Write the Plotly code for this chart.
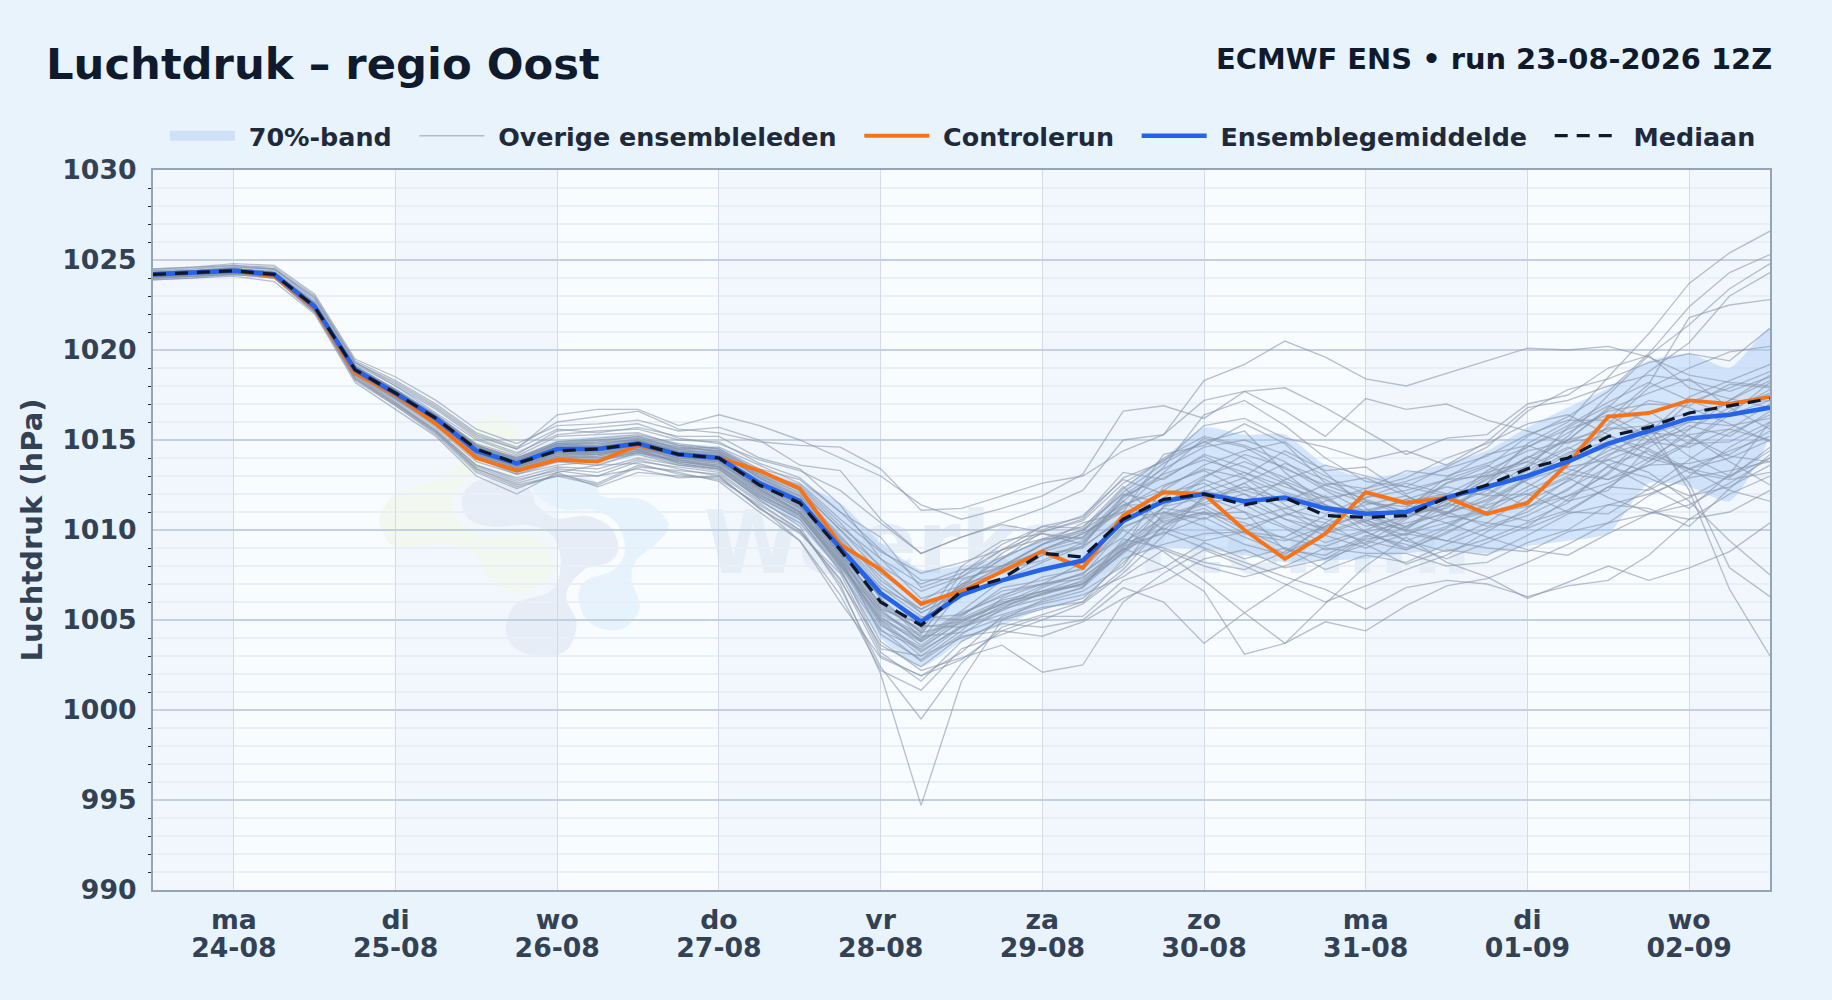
import pandas as pd
import plotly.graph_objects as go

TIMES = pd.date_range("2026-08-23 12:00", "2026-09-02 12:00", freq="6h")
DAYS = pd.date_range("2026-08-24", "2026-09-02", freq="D")
TICK_TEXT = ["ma<br>24-08", "di<br>25-08", "wo<br>26-08", "do<br>27-08", "vr<br>28-08",
             "za<br>29-08", "zo<br>30-08", "ma<br>31-08", "di<br>01-09", "wo<br>02-09"]
BASE_HPA = 1000  # all series below are hPa above this base

CONTROL = [24.2,24.3,24.4,24.1,22.3,18.7,17.5,15.9,14.0,13.3, 13.9,13.8,14.7,14.2,14.0,13.3,12.3,9.2,7.8,5.9,
           6.6,7.7,8.8,7.9,10.8,12.1,12.0,10.0,8.4,9.8, 12.1,11.5,11.8,10.9,11.5,13.7,16.3,16.5,17.2,17.0, 17.4]
MEAN = [24.2,24.3,24.4,24.2,22.4,18.9,17.6,16.2,14.4,13.7, 14.5,14.5,14.8,14.2,14.0,12.6,11.6,9.0,6.5,4.9,
        6.4,7.2,7.8,8.3,10.5,11.6,12.0,11.6,11.8,11.2, 10.9,11.0,11.8,12.4,13.0,13.8,14.8,15.5,16.2,16.4, 16.8]
MEDIAN = [24.2,24.3,24.4,24.2,22.4,18.9,17.6,16.2,14.5,13.7, 14.4,14.5,14.8,14.2,14.0,12.5,11.5,8.9,6.0,4.7,
          6.6,7.3,8.7,8.5,10.6,11.7,12.0,11.4,11.8,10.8, 10.7,10.8,11.8,12.5,13.4,14.0,15.2,15.7,16.5,16.9, 17.3]
BAND_UP = [24.5,24.6,24.7,24.5,22.7,19.2,17.9,16.5,14.8,14.1, 15.0,15.2,15.3,14.8,14.6,13.4,12.6,11.5,9.3,7.8,
           8.0,8.5,9.5,10.0,12.3,14.0,15.7,15.3,15.3,13.6, 12.9,13.2,13.7,14.4,15.7,16.8,17.9,19.4,19.8,19.0, 21.2]
BAND_LO = [24.0,24.1,24.2,24.0,22.1,18.6,17.2,15.8,14.0,13.2, 13.7,13.6,14.1,13.6,13.3,11.6,10.2,7.6,4.0,2.4,
           3.8,4.7,5.6,6.2,8.4,9.0,8.9,8.6,8.2,8.3, 8.4,8.7,8.9,8.7,9.1,9.4,9.8,12.6,12.4,11.6, 15.3]

MEMBERS = [
 [24.4,24.5,24.7,24.6,23.0,19.4,18.3,17.0,15.4,14.6, 16.0,16.3,16.6,15.6,15.4,14.9,14.7,14.6,13.4,11.1, 11.2,11.9,12.6,13.0,14.4,15.3,18.3,19.2,20.5,19.6, 18.4,18.0,18.7,19.4,20.1,20.0,20.2,19.6,18.6,18.2, 18.0],
 [24.3,24.4,24.6,24.5,22.9,19.3,18.1,16.8,15.2,14.5, 16.4,16.7,16.7,15.8,16.4,15.8,15.0,14.0,13.0,11.4, 10.6,11.2,11.9,13.1,16.6,16.9,16.2,17.7,17.9,16.8, 15.5,14.2,15.1,15.3,17.0,17.5,19.0,19.7,17.9,17.3, 16.8],
 [24.3,24.4,24.5,24.4,22.7,19.2,18.0,16.5,15.0,14.2, 15.5,15.7,15.9,15.1,14.8,13.9,13.3,12.2,10.4,8.7, 9.6,10.4,11.2,12.2,15.0,15.3,17.2,17.7,16.6,15.2, 17.3,16.7,17.0,16.1,15.5,14.8,15.9,17.9,19.0,19.9, 20.2],
 [24.2,24.3,24.5,24.3,22.5,19.0,17.8,16.3,14.7,14.0, 14.9,15.0,15.2,14.5,14.4,13.3,12.4,10.2,8.4,6.2, 6.9,8.4,9.9,10.5,12.6,13.9,14.9,15.5,13.2,11.4, 9.9,10.4,10.9,12.6,14.8,16.0,18.5,20.9,23.7,25.4, 26.6],
 [24.2,24.3,24.4,24.2,22.5,19.0,17.7,16.2,14.6,13.9, 14.7,14.9,15.0,14.3,14.2,13.1,12.0,9.6,7.4,5.4, 6.5,7.7,8.9,9.8,11.2,13.2,15.1,14.6,13.4,12.5, 11.7,11.0,12.6,13.5,15.2,16.3,17.7,19.8,22.4,24.3, 25.3],
 [24.3,24.3,24.5,24.3,22.6,19.1,17.8,16.4,14.8,14.1, 15.2,15.3,15.4,14.7,14.3,12.9,11.8,9.0,6.2,4.0, 5.5,7.2,8.2,9.1,10.6,12.2,13.6,14.4,14.9,13.2, 11.2,10.1,11.3,12.2,13.6,15.2,17.5,19.7,21.4,23.4, 24.8],
 [24.1,24.2,24.4,24.2,22.4,18.9,17.5,16.1,14.4,13.6, 14.3,14.4,14.9,14.4,14.1,12.3,11.0,8.2,5.0,3.3, 4.6,5.5,6.5,7.0,8.8,11.3,12.8,12.0,10.6,9.7, 9.0,9.8,10.4,11.0,13.0,15.0,16.8,18.8,20.4,23.0, 24.3],
 [24.2,24.3,24.4,24.3,22.5,18.9,17.6,16.1,14.3,13.5, 14.2,14.2,14.6,14.0,13.8,12.6,11.4,8.8,6.4,5.0, 7.0,8.4,9.5,10.2,12.0,11.5,12.4,13.2,12.1,11.4, 10.8,10.2,11.0,11.6,12.8,14.0,16.2,18.1,21.8,22.5, 22.8],
 [24.3,24.4,24.5,24.3,22.6,19.0,17.7,16.3,14.7,13.9, 14.8,14.6,14.9,14.5,14.6,13.6,12.6,10.6,8.8,7.6, 8.2,8.9,9.5,9.6,11.6,13.5,16.4,17.2,15.8,14.0, 12.7,12.4,13.5,14.6,16.6,17.8,18.4,19.3,19.8,19.4, 21.2],
 [24.1,24.2,24.3,24.1,22.2,18.6,17.2,15.7,13.8,13.1, 13.6,13.8,14.4,13.8,13.5,12.0,10.8,8.0,4.5,2.7, 4.2,5.6,6.2,6.8,8.8,10.6,11.2,10.0,9.0,8.4, 9.6,10.7,11.6,12.8,14.0,15.0,15.6,15.8,12.2,6.7, 3.0],
 [24.2,24.2,24.4,24.2,22.3,18.8,17.4,16.0,14.2,13.4, 14.0,14.2,14.6,14.1,13.9,12.2,11.1,8.4,5.6,3.8, 5.2,6.8,7.2,7.9,10.2,11.0,10.2,9.2,8.6,10.4, 11.8,12.6,12.0,13.1,14.6,15.6,16.4,15.2,12.6,7.9, 6.3],
 [24.0,24.1,24.2,24.0,22.2,18.5,17.0,15.5,13.5,12.7, 13.4,13.2,13.9,13.4,13.0,11.2,9.8,7.6,3.2,1.6, 3.8,5.0,5.6,6.2,8.2,10.2,11.8,12.6,11.0,9.9, 10.6,9.4,10.2,11.5,12.8,13.5,13.9,13.2,11.6,9.4, 7.5],
 [24.0,24.1,24.2,24.1,22.2,18.4,17.0,15.4,13.4,12.5, 13.0,12.5,13.5,13.3,13.1,11.5,10.0,7.0,2.0,-5.3, 1.6,5.0,6.1,6.8,9.5,9.0,8.2,7.8,8.8,10.2, 11.6,11.0,10.4,9.6,8.9,8.6,9.8,10.9,11.4,12.6, 14.0],
 [24.1,24.2,24.3,24.1,22.3,18.6,17.1,15.6,13.6,12.9, 13.5,13.4,14.0,13.6,13.4,11.7,10.2,6.8,2.4,-0.5, 2.6,4.6,5.3,6.0,8.4,9.2,9.8,9.9,9.6,10.8, 11.4,11.9,10.8,10.4,10.1,11.0,12.4,12.2,13.4,14.4, 15.2],
 [24.0,24.1,24.3,24.0,22.1,18.3,16.9,15.3,13.2,12.3, 13.1,12.6,13.6,13.2,12.7,11.0,9.4,6.4,2.2,1.1, 3.4,4.2,5.0,5.9,7.6,9.7,11.9,11.0,8.9,8.6, 9.7,9.2,8.4,9.3,10.2,11.7,13.2,15.4,15.2,13.8, 12.5],
 [24.1,24.1,24.3,24.1,22.2,18.5,17.1,15.5,13.6,12.8, 13.3,13.0,13.8,13.5,13.2,11.6,10.4,7.8,3.8,2.2, 2.9,3.6,2.1,2.5,6.0,7.6,8.9,8.0,7.0,6.0, 6.9,7.8,8.6,9.9,11.2,12.8,14.6,14.0,13.4,12.2, 11.6],
 [24.2,24.2,24.4,24.2,22.4,18.7,17.3,15.8,14.0,13.1, 13.8,13.6,14.3,13.9,13.5,11.9,10.7,8.3,4.8,3.0, 4.0,4.8,4.6,5.0,6.8,6.0,3.7,5.4,6.9,8.2, 9.5,9.8,9.4,9.0,8.8,9.9,10.4,10.9,11.8,13.0, 14.4],
 [24.1,24.2,24.4,24.2,22.3,18.8,17.5,15.9,14.1,13.3, 13.9,14.1,14.6,13.9,13.7,12.4,11.2,8.6,5.2,3.6, 5.1,6.1,6.6,6.9,9.0,8.0,6.6,3.1,3.7,4.9, 4.4,5.8,6.9,7.3,8.2,9.2,10.4,11.9,13.0,14.6, 15.8],
 [24.2,24.3,24.4,24.2,22.3,18.8,17.4,16.0,14.3,13.5, 14.1,14.3,14.5,13.7,13.4,11.8,10.6,7.9,3.4,3.0, 4.6,5.8,6.4,7.2,8.9,9.9,9.0,8.2,7.4,6.7, 5.6,6.8,7.2,7.0,6.3,6.9,7.2,8.6,10.6,12.0, 13.0],
 [24.2,24.3,24.4,24.2,22.4,18.9,17.5,16.1,14.4,13.6, 14.4,14.3,14.7,14.1,13.8,12.1,11.0,8.5,4.2,2.8, 4.4,6.2,7.0,7.5,10.0,8.8,7.2,5.4,3.7,5.9, 8.0,9.6,8.2,7.4,6.2,7.1,8.0,7.2,7.9,8.8, 10.4],
 [24.3,24.4,24.5,24.3,22.5,19.0,17.7,16.2,14.5,13.8, 14.6,14.6,15.0,14.4,14.3,13.1,12.2,10.0,7.6,6.0, 7.4,8.9,10.2,10.7,13.2,12.8,14.2,13.5,12.6,11.2, 10.4,9.4,8.8,9.5,10.4,11.1,12.4,13.8,15.6,16.8, 17.6],
 [24.2,24.3,24.4,24.2,22.4,18.9,17.6,16.1,14.4,13.7, 14.5,14.4,14.8,14.2,14.0,12.8,11.7,9.4,6.8,5.2, 5.0,6.0,6.4,7.0,9.0,12.4,13.4,12.9,11.4,10.0, 9.4,8.9,9.8,11.0,12.2,13.2,14.4,15.3,16.0,15.8, 16.2],
 [24.2,24.3,24.4,24.2,22.4,18.9,17.5,16.1,14.3,13.6, 14.2,14.4,14.6,14.2,13.9,12.5,11.3,8.6,5.4,4.2, 7.2,8.0,9.2,10.0,11.4,11.4,12.9,14.2,13.5,12.2, 11.0,11.7,12.4,11.9,12.0,13.0,14.2,14.9,14.6,15.6, 15.0],
 [24.3,24.3,24.5,24.3,22.5,19.0,17.6,16.2,14.6,13.8, 14.7,14.7,15.1,14.5,14.2,12.9,11.9,9.3,6.6,4.6, 4.9,5.9,6.6,7.4,8.9,10.8,11.5,12.6,13.7,12.8, 11.6,10.8,11.4,13.3,14.4,14.9,15.2,14.5,13.4,14.0, 15.0],
 [24.2,24.2,24.4,24.2,22.4,18.8,17.5,16.0,14.3,13.5, 14.3,14.2,14.5,14.0,13.8,12.4,11.3,8.9,5.8,4.4, 7.6,9.2,10.2,10.1,12.4,10.4,11.0,10.6,11.2,11.9, 10.4,9.7,10.9,12.6,14.1,13.4,12.8,13.6,14.8,16.4, 18.2],
 [24.3,24.4,24.5,24.3,22.6,19.1,17.8,16.4,14.7,14.0, 14.9,15.1,15.3,14.8,14.5,13.2,12.5,10.4,7.9,5.8, 6.8,8.0,8.8,9.4,11.4,12.2,11.4,10.2,10.8,11.6, 12.3,12.9,14.0,14.8,15.9,16.4,15.3,14.2,13.4,12.9, 14.6],
 [24.2,24.3,24.4,24.2,22.4,18.9,17.6,16.2,14.5,13.7, 14.5,14.6,14.9,14.3,14.1,12.7,11.5,8.7,5.9,4.7, 4.6,5.3,6.0,6.6,8.0,11.0,10.6,11.5,12.8,13.6, 13.0,12.4,11.9,11.2,12.4,13.7,15.8,17.2,16.8,15.9, 14.9],
 [24.1,24.2,24.4,24.2,22.3,18.8,17.4,15.9,14.1,13.4, 14.0,14.1,14.4,13.9,13.6,12.2,11.0,8.2,5.0,3.8, 5.3,6.4,7.0,7.3,9.2,10.1,9.4,9.9,10.9,10.4, 9.2,10.2,11.5,10.8,11.6,12.7,13.9,14.8,16.0,17.2, 18.6],
 [24.3,24.4,24.5,24.3,22.6,19.1,17.8,16.3,14.7,14.0, 14.8,14.9,15.2,14.7,14.5,13.4,12.8,11.0,8.9,7.2, 7.3,7.9,9.2,9.9,12.3,14.0,15.2,14.7,13.8,12.3, 11.5,11.3,12.6,13.2,13.8,15.0,16.7,17.6,18.4,16.8, 15.6],
 [24.2,24.3,24.4,24.2,22.4,18.9,17.6,16.2,14.4,13.7, 14.4,14.5,14.7,14.2,14.0,12.6,11.6,9.1,6.2,4.3, 6.8,8.7,10.0,10.8,12.8,12.0,12.6,11.4,10.2,9.3, 10.0,10.9,11.2,12.5,13.1,14.3,14.9,13.8,14.9,16.6, 17.8],
 [24.1,24.2,24.3,24.1,22.3,18.7,17.3,15.8,14.0,13.2, 13.9,13.9,14.2,13.6,13.3,11.8,10.6,7.7,4.4,3.4, 5.0,5.9,6.9,7.6,9.3,10.7,11.4,12.0,11.2,10.6, 9.9,8.9,9.9,10.9,11.3,11.9,13.1,15.0,17.1,17.9, 18.8],
 [24.3,24.3,24.5,24.3,22.5,19.0,17.7,16.3,14.6,13.9, 14.7,14.8,15.0,14.4,14.3,12.9,11.7,9.0,6.8,5.6, 6.7,7.6,8.6,9.1,11.8,13.1,13.9,13.2,12.4,11.7, 10.7,10.0,11.7,13.0,13.5,14.6,13.6,12.4,11.2,13.1, 16.0],
 [24.2,24.2,24.4,24.2,22.4,18.8,17.5,16.0,14.2,13.5, 14.1,14.2,14.5,14.0,13.7,12.3,11.2,8.4,5.3,4.1, 4.3,5.1,5.7,6.0,7.8,10.3,10.9,11.0,10.1,8.9, 9.3,10.6,11.9,12.3,11.3,12.2,14.1,15.7,14.1,13.0, 14.0],
 [24.2,24.3,24.4,24.2,22.4,18.9,17.6,16.1,14.4,13.6, 14.4,14.4,14.7,14.1,13.9,12.5,11.4,8.6,5.6,4.8, 8.0,9.4,9.8,9.5,11.6,10.0,11.7,12.4,11.7,10.9, 11.8,12.2,12.8,13.6,12.6,11.6,12.2,14.6,15.8,15.2, 16.6],
 [24.2,24.3,24.5,24.2,22.5,19.0,17.6,16.2,14.5,13.7, 14.6,14.6,14.9,14.3,14.1,12.7,11.6,8.9,6.3,5.1, 5.3,6.6,7.0,8.2,9.6,11.8,13.0,13.8,12.9,11.8, 10.5,11.2,12.9,14.2,14.7,13.9,14.6,15.9,16.5,17.0, 17.2],
 [24.1,24.2,24.4,24.1,22.3,18.7,17.3,15.9,14.1,13.3, 13.8,13.9,14.3,13.8,13.5,12.1,10.9,8.0,5.5,3.9, 5.4,6.3,7.4,7.8,10.1,11.2,10.9,10.4,9.5,9.1, 9.9,9.0,10.1,11.4,12.0,11.0,10.9,12.3,13.9,15.4, 16.4],
 [24.3,24.3,24.5,24.3,22.6,19.0,17.7,16.4,14.7,13.9, 14.8,14.8,15.0,14.6,14.4,13.0,12.1,9.7,7.2,5.6, 6.8,7.9,8.9,9.6,11.9,13.4,14.6,15.0,14.2,13.0, 12.0,11.4,10.9,11.7,12.9,14.2,15.5,16.6,15.2,14.1, 13.8],
 [24.2,24.3,24.4,24.2,22.3,18.8,17.4,16.0,14.2,13.4, 14.1,14.0,14.4,13.8,13.6,12.0,10.8,8.1,4.7,3.5, 4.9,5.9,6.6,7.1,9.1,9.8,10.7,9.6,8.7,9.8, 10.5,10.0,9.4,10.4,11.9,12.9,11.8,11.0,10.6,11.0, 12.2],
 [24.2,24.3,24.4,24.2,22.4,18.9,17.5,16.1,14.5,13.6, 14.3,14.5,14.8,14.2,13.9,12.4,11.5,8.8,5.7,4.5, 7.0,7.6,8.9,9.8,11.0,11.6,12.1,12.9,12.0,11.3, 11.1,11.6,12.0,12.0,13.4,15.7,16.9,16.0,14.8,14.9, 16.0],
 [24.3,24.4,24.5,24.3,22.5,19.0,17.7,16.3,14.6,13.9, 14.8,15.0,15.1,14.6,14.4,13.2,12.3,10.0,8.0,6.6, 7.4,8.5,9.4,10.0,12.1,13.7,14.9,14.0,12.7,11.8, 12.1,12.7,13.4,14.1,15.3,16.1,16.1,15.0,15.6,17.2, 18.3],
 [24.2,24.2,24.4,24.2,22.4,18.9,17.5,16.0,14.3,13.5, 14.2,14.3,14.6,14.1,13.8,12.3,11.0,8.3,5.1,3.9, 6.6,7.2,8.6,9.0,10.8,10.9,12.2,11.6,10.6,10.1, 10.9,11.7,11.0,10.2,11.0,12.3,13.5,12.9,11.9,12.4, 13.6],
 [24.2,24.3,24.4,24.2,22.4,18.9,17.6,16.2,14.4,13.6, 14.3,14.3,14.6,14.3,14.0,12.6,11.4,8.7,5.9,4.3, 4.8,5.6,6.8,7.6,9.2,11.3,11.8,12.2,12.6,11.4, 10.2,10.7,11.4,12.9,13.8,13.1,12.8,14.0,15.3,15.6, 17.0],
 [24.1,24.2,24.4,24.2,22.3,18.8,17.4,15.9,14.2,13.4, 14.0,14.0,14.3,13.7,13.4,11.9,10.9,8.1,4.9,3.2, 4.7,5.7,6.5,7.0,8.7,10.5,11.0,9.8,9.4,10.2, 10.9,9.9,10.7,11.0,10.5,11.5,13.6,14.4,13.2,12.8, 13.2],
 [24.3,24.4,24.5,24.3,22.5,19.0,17.7,16.2,14.5,13.8, 14.6,14.7,14.9,14.3,14.2,13.0,11.9,9.5,7.0,5.4, 6.6,7.8,8.3,9.3,11.3,12.5,13.3,12.2,11.6,12.5, 12.9,11.9,10.9,11.9,13.3,14.5,15.7,15.4,17.4,18.3, 19.2],
 [24.5,24.6,24.8,24.7,23.1,19.5,18.5,17.2,15.6,14.8, 15.8,15.9,16.1,15.5,15.7,15.0,13.6,13.3,10.6,8.7, 9.6,10.3,9.9,10.6,12.9,13.8,15.8,16.2,15.1,14.6, 13.9,14.4,13.6,14.9,16.8,17.2,18.0,18.6,18.3,17.7, 18.5],
 [23.9,24.0,24.1,23.8,22.0,18.2,16.7,15.2,13.0,12.0, 13.2,12.4,13.2,13.0,12.9,11.3,9.4,6.0,2.9,1.9, 2.8,4.4,4.1,4.9,6.2,7.1,8.4,8.9,7.9,8.4, 9.2,8.1,8.9,8.6,9.7,10.9,11.4,12.0,12.9,13.3, 13.8],
 [24.5,24.6,24.7,24.5,22.8,19.3,18.2,16.9,15.3,14.5, 15.6,15.4,15.7,15.2,15.2,14.0,13.4,11.4,8.4,7.0, 7.8,8.0,9.2,10.4,11.0,14.2,14.7,15.9,14.8,12.6, 12.3,13.3,13.0,13.7,14.6,15.8,17.1,18.2,17.2,16.4, 17.2],
 [24.0,24.1,24.2,24.0,22.1,18.4,17.0,15.5,13.4,12.6, 13.2,13.6,13.7,13.1,12.8,11.4,10.0,7.2,3.6,2.4, 4.1,4.4,5.2,5.2,7.2,7.9,9.3,8.4,9.0,7.8, 8.6,8.2,9.2,10.1,10.8,11.9,12.6,13.6,13.7,14.2, 15.5],
 [24.4,24.4,24.6,24.5,22.9,19.3,18.0,16.7,15.1,14.3, 15.3,15.5,15.6,15.0,14.9,13.7,12.9,11.0,9.6,6.8, 7.6,8.9,9.8,9.2,11.9,12.9,14.1,13.0,14.4,13.3, 13.5,12.0,12.8,13.0,14.0,15.4,16.6,17.0,16.9,18.1, 17.9],
 [23.9,24.0,24.2,24.0,22.1,18.4,16.9,15.4,13.3,12.4, 13.0,13.0,13.4,12.9,13.0,11.2,9.9,7.3,3.0,1.9, 3.2,5.2,5.9,6.4,7.4,8.9,8.0,7.4,8.0,9.0, 8.7,8.7,8.0,8.2,9.3,10.0,11.4,11.2,10.2,12.3, 14.2],
]

PAPER = "#e9f3fc"
PLOT_BG = "#f9fcff"
DAY_SHADE = "#f2f7fd"
L, R, T, B = 153, 1770, 170, 890  # plot area in page pixels
FONT = "DejaVu Sans"
NB = "\u00a0"


def hpa(values):
    return [BASE_HPA + v for v in values]


def blob(points_zoom, colour):
    """Closed smooth watermark blob; points are in page px relative to the logo origin."""
    pts = [((360 + x / 3 - L) / (R - L), (B - (390 + y / 3)) / (B - T)) for x, y in points_zoom]
    n = len(pts)
    d = f"M {pts[0][0]:.5f} {pts[0][1]:.5f}"
    for i in range(n):
        p0, p1, p2, p3 = pts[i - 1], pts[i], pts[(i + 1) % n], pts[(i + 2) % n]
        c1 = (p1[0] + (p2[0] - p0[0]) / 6, p1[1] + (p2[1] - p0[1]) / 6)
        c2 = (p2[0] - (p3[0] - p1[0]) / 6, p2[1] - (p3[1] - p1[1]) / 6)
        d += f" C {c1[0]:.5f} {c1[1]:.5f} {c2[0]:.5f} {c2[1]:.5f} {p2[0]:.5f} {p2[1]:.5f}"
    return dict(type="path", path=d + " Z", xref="paper", yref="paper", fillcolor=colour,
                line_width=0, layer="below")


LOGO_YELLOW = [(60,380),(110,310),(230,270),(300,215),(340,110),(400,72),(460,110),(470,165),(350,240),(280,320),
               (300,400),(380,440),(520,440),(580,520),(540,585),(460,610),(390,570),(340,490),(260,460),(110,470),(70,430)]
LOGO_DARK = [(305,330),(345,275),(430,268),(510,300),(530,345),(590,385),(680,378),(750,410),(775,470),(750,515),
             (680,535),(630,585),(620,630),(650,700),(620,780),(540,800),(460,770),(438,710),(470,640),(560,610),
             (595,570),(600,490),(570,430),(500,405),(400,410),(330,390)]
LOGO_LIGHT = [(515,290),(540,250),(600,250),(700,270),(730,320),(850,330),(925,400),(890,460),(830,510),(815,570),
              (840,650),(800,710),(740,720),(680,690),(655,620),(680,570),(760,540),(795,480),(770,400),(700,360),
              (620,360),(560,340)]

shapes = [blob(LOGO_YELLOW, "#f2f8ef"), blob(LOGO_LIGHT, "#e7f3fc"), blob(LOGO_DARK, "#e6edf6")]
shade_edges = [TIMES[0]] + list(DAYS) + [TIMES[-1]]
for k in range(0, len(shade_edges) - 1, 2):
    shapes.insert(0, dict(type="rect", xref="x", yref="paper", x0=shade_edges[k], x1=shade_edges[k + 1],
                          y0=0, y1=1, fillcolor=DAY_SHADE, line_width=0, layer="below"))
shapes.append(dict(type="rect", xref="paper", yref="paper", x0=(701 - L) / (R - L), x1=(1560 - L) / (R - L),
                   y0=(B - 574) / (B - T), y1=(B - 499) / (B - T), line_width=0, fillcolor="rgba(0,0,0,0)", layer="below",
                   label=dict(text="Weerkaarten.nl", textposition="middle left",
                              font=dict(family=FONT, size=88, weight=700, color="#e5eef7"), padding=0)))

fig = go.Figure()
fig.add_trace(go.Scatter(x=list(TIMES) + list(TIMES[::-1]), y=hpa(BAND_UP) + hpa(BAND_LO[::-1]),
                         mode="lines", fill="toself", fillcolor="rgba(160,198,245,0.42)",
                         line=dict(width=0, color="rgba(0,0,0,0)", shape="spline", smoothing=0.6),
                         showlegend=False, hoverinfo="skip"))
fig.add_trace(go.Scatter(x=[None], y=[None], mode="lines", name=NB + "70%-band" + NB * 2,
                         line=dict(color="#cfe0f7", width=17)))
for i, m in enumerate(MEMBERS):
    fig.add_trace(go.Scatter(x=TIMES, y=hpa(m), mode="lines", name=NB + "Overige ensembleleden" + NB * 2,
                             legendgroup="members", showlegend=i == 0,
                             line=dict(color="rgba(135,148,168,0.58)", width=1.35)))
fig.add_trace(go.Scatter(x=TIMES, y=hpa(CONTROL), mode="lines", name=NB + "Controlerun" + NB * 2,
                         line=dict(color="#f97316", width=3.9)))
fig.add_trace(go.Scatter(x=TIMES, y=hpa(MEAN), mode="lines", name=NB + "Ensemblegemiddelde" + NB * 2,
                         line=dict(color="#2563eb", width=4.6)))
fig.add_trace(go.Scatter(x=TIMES, y=hpa(MEDIAN), mode="lines", name=NB + "Mediaan",
                         line=dict(color="#0f172a", width=3.2, dash="13px,9px")))

AXIS_LINE = "#94a3b8"
TICK_FONT = dict(family=FONT, size=26.7, weight=700, color="#334155")
fig.update_layout(
    width=1832, height=1000, autosize=False,
    margin=dict(l=L, r=1832 - R, t=T, b=1000 - B, pad=0),
    paper_bgcolor=PAPER, plot_bgcolor=PLOT_BG,
    font=dict(family=FONT, color="#334155"),
    title=dict(text="Luchtdruk – regio Oost", x=46 / 1832, xanchor="left", xref="container",
               y=1 - 64 / 1000, yanchor="middle", yref="container",
               font=dict(family=FONT, size=43.3, weight=700, color="#0f1b2d")),
    legend=dict(orientation="h", x=0.9944, xanchor="right", y=1.0143, yanchor="bottom", xref="paper", yref="paper",
                bgcolor="rgba(0,0,0,0)", itemwidth=65, traceorder="normal",
                font=dict(family=FONT, size=25.4, weight=700, color="#1e293b")),
    shapes=shapes,
    annotations=[dict(text="ECMWF ENS • run 23-08-2026 12Z", xref="paper", yref="paper", x=1 + 3.5 / (R - L), xanchor="right",
                      y=(B - 59) / (B - T), yanchor="middle", showarrow=False,
                      font=dict(family=FONT, size=28.9, weight=700, color="#0f1b2d"))],
    xaxis=dict(type="date", range=[TIMES[0], TIMES[-1]], tickmode="array", tickvals=list(DAYS), ticktext=TICK_TEXT,
               tickfont=TICK_FONT, ticks="outside", ticklen=5, tickcolor="rgba(0,0,0,0)", tickangle=0,
               showgrid=True, gridcolor="#d3dbe8", gridwidth=1.3,
               showline=True, linecolor=AXIS_LINE, linewidth=2.2, mirror=True, zeroline=False),
    yaxis=dict(range=[990, 1030], tickmode="linear", tick0=990, dtick=5,
               tickfont=TICK_FONT, ticks="", ticklabelstandoff=9,
               showgrid=True, gridcolor="#c4d0e0", gridwidth=2,
               showline=True, linecolor=AXIS_LINE, linewidth=2.2, mirror=True, zeroline=False,
               title=dict(text="Luchtdruk (hPa)", standoff=11,
                          font=dict(family=FONT, size=29, weight=700, color="#334155")),
               minor=dict(dtick=1, tick0=990, ticks="outside", ticklen=3, tickcolor="#1e293b", tickwidth=1.3,
                          showgrid=True, gridcolor="#e9eff7", gridwidth=2)),
)

# tighter line spacing for the two-line day labels, as in the reference
POST = """
document.body.style.margin='0';
var gd = document.getElementById('{plot_id}');
function tightenTicks() {
  gd.querySelectorAll('.xtick text tspan.line').forEach(function (t) {
    if (t.getAttribute('dy') === '1.3em') { t.setAttribute('dy', '1.05em'); }
  });
}
tightenTicks();
gd.on('plotly_afterplot', tightenTicks);
"""
fig.write_html("out.html", post_script=POST, config={"displayModeBar": False})
